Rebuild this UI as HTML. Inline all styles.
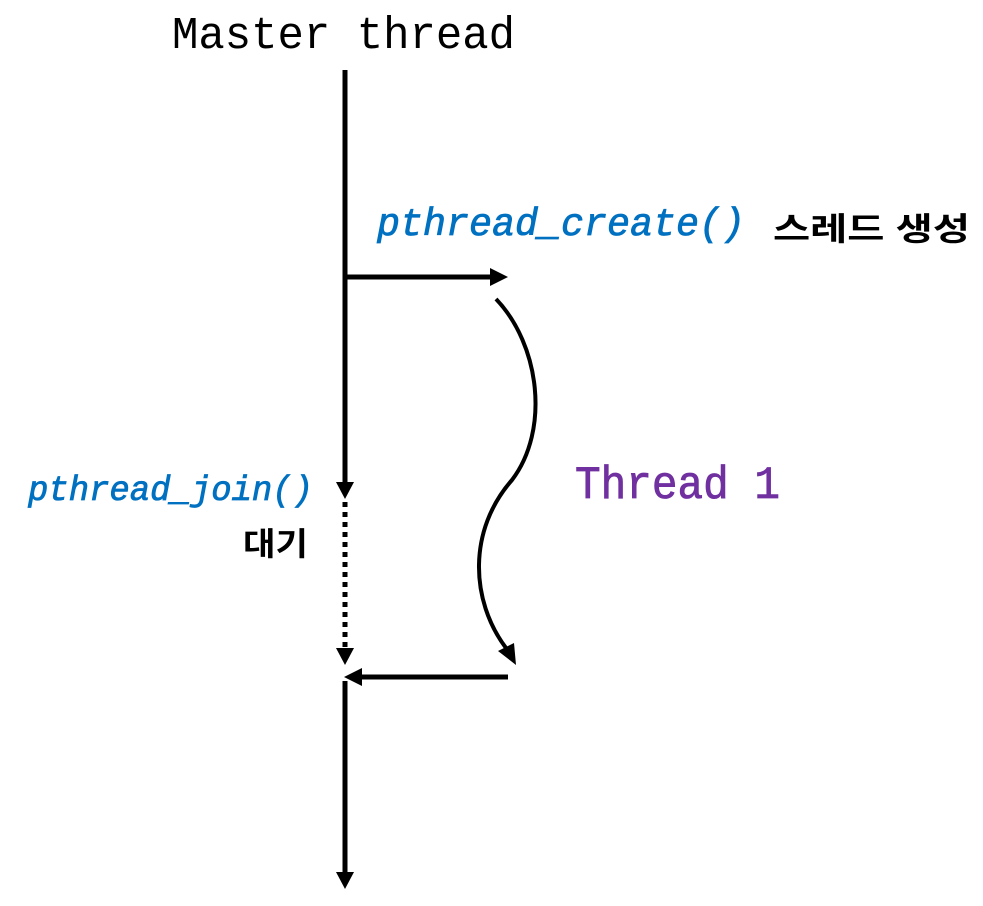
<!DOCTYPE html>
<html><head><meta charset="utf-8"><style>
html,body{margin:0;padding:0;background:#fff;width:983px;height:906px;overflow:hidden}
</style></head><body>
<svg width="983" height="906" viewBox="0 0 983 906" xmlns="http://www.w3.org/2000/svg">
<text x="172" y="48" font-family="Liberation Mono, monospace" font-size="45" textLength="343" lengthAdjust="spacingAndGlyphs" fill="#000">Master thread</text>
<line x1="345" y1="70" x2="345" y2="485" stroke="#000" stroke-width="5"/>
<path d="M336,482 L354,482 L345,499 z" fill="#000"/>
<line x1="345" y1="502" x2="345" y2="650" stroke="#000" stroke-width="5" stroke-dasharray="5,5"/>
<path d="M336,648 L354,648 L345,665 z" fill="#000"/>
<line x1="345" y1="681" x2="345" y2="875" stroke="#000" stroke-width="5"/>
<path d="M336,872 L354,872 L345,889 z" fill="#000"/>
<line x1="345" y1="277" x2="492" y2="277" stroke="#000" stroke-width="5"/>
<path d="M490,268 L508,277 L490,286 z" fill="#000"/>
<line x1="508" y1="677" x2="360" y2="677" stroke="#000" stroke-width="5"/>
<path d="M362,668 L344,677 L362,686 z" fill="#000"/>
<path d="M496,299 C540,345 550,430 512,480 C468,530 470,600 506,648" fill="none" stroke="#000" stroke-width="4"/>
<path d="M498,651 L516,665 L514,643 z" fill="#000"/>
<text x="377" y="235" font-family="Liberation Mono, monospace" font-style="italic" font-size="39" textLength="368" lengthAdjust="spacingAndGlyphs" fill="#0070c0" stroke="#0070c0" stroke-width="0.8">pthread_create()</text>
<text x="773" y="240" font-family="Liberation Sans, Noto Sans CJK KR, sans-serif" font-weight="bold" font-size="32" textLength="197" lengthAdjust="spacingAndGlyphs" fill="#000">스레드 생성</text>
<text x="575" y="498" font-family="Liberation Mono, monospace" font-size="46" textLength="205" lengthAdjust="spacingAndGlyphs" fill="#7030a0" stroke="#7030a0" stroke-width="0.8">Thread 1</text>
<text x="28" y="500" font-family="Liberation Mono, monospace" font-style="italic" font-size="35" textLength="285" lengthAdjust="spacingAndGlyphs" fill="#0070c0" stroke="#0070c0" stroke-width="0.8">pthread_join()</text>
<text x="243" y="555" font-family="Liberation Sans, Noto Sans CJK KR, sans-serif" font-weight="bold" font-size="32" textLength="65" lengthAdjust="spacingAndGlyphs" fill="#000">대기</text>
</svg>
</body></html>
